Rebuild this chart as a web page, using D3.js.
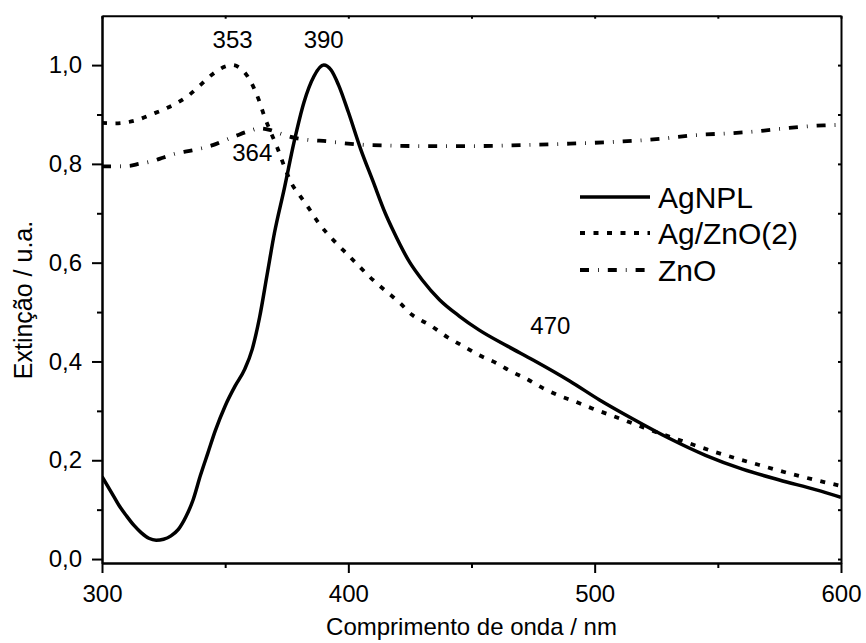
<!DOCTYPE html>
<html><head><meta charset="utf-8">
<script src="https://cdn.jsdelivr.net/npm/d3@7"></script>
<style>body{margin:0;background:#fff;} svg{display:block;} text{font-family:"Liberation Sans",Arial,sans-serif;fill:#000;}</style>
</head><body>
<svg id="c" width="866" height="643"></svg>
<script>
// ---- data ----
const agnplWl = [300,305,307,310,313,316,319,322,325,328,331,334,337,340,343,346,350,354,358,361,364,367,370,374,378,382,386,390,393,396,400,405,410,415,418,425,430,437,445,453,465,475,490,502,515,530,545,560,575,590,600];
const agnplVal = [0.167,0.125,0.108,0.087,0.068,0.053,0.042,0.038,0.040,0.047,0.060,0.085,0.120,0.170,0.215,0.260,0.310,0.350,0.385,0.425,0.490,0.575,0.660,0.750,0.845,0.925,0.977,1.000,0.990,0.960,0.905,0.830,0.765,0.700,0.667,0.600,0.565,0.525,0.492,0.464,0.430,0.403,0.360,0.322,0.285,0.245,0.210,0.182,0.160,0.140,0.125];
const agznoWl = [300,305,310,315,320,325,330,335,340,345,350,353,356,359,362,364,366,368,371,374,377,380,384,388,395,400,410,421,426,433,440,447,453,460,466,473,479,485,492,499,510,520,535,550,565,580,600];
const agznoVal = [0.883,0.882,0.884,0.890,0.900,0.910,0.922,0.938,0.960,0.982,0.997,1.000,0.994,0.978,0.950,0.925,0.895,0.870,0.835,0.795,0.760,0.738,0.710,0.680,0.640,0.615,0.565,0.518,0.494,0.474,0.450,0.430,0.413,0.397,0.380,0.363,0.346,0.332,0.319,0.305,0.285,0.266,0.240,0.215,0.193,0.172,0.148];
const znoWl = [300,305,311,315,320,325,330,335,340,345,350,355,360,364,368,372,378,385,391,398,405,418,430,450,470,490,510,525,543,555,566,579,593,600];
const znoVal = [0.795,0.795,0.796,0.800,0.805,0.813,0.821,0.826,0.831,0.838,0.848,0.858,0.867,0.872,0.869,0.862,0.853,0.848,0.846,0.842,0.839,0.837,0.836,0.836,0.838,0.841,0.845,0.850,0.859,0.862,0.866,0.873,0.878,0.879];
const seriesNames = ["AgNPL","Ag/ZnO(2)","ZnO"];
const xTicks = [300,400,500,600];
const xMinorTicks = [350,450,550];
const yTicks = [0,0.2,0.4,0.6,0.8,1.0];
const yMinorTicks = [0.1,0.3,0.5,0.7,0.9];
const peakLabels = ["353","390","364","470"];
const peakWl = [353,390,361,482];
const peakVal = [1.034,1.034,0.806,0.455];
const xTitle = "Comprimento de onda / nm";
const yTitle = "Extinção / u.a.";

// ---- layout ----
const L = 102, R = 841, T = 15.7, B = 563;
const svg = d3.select("#c");
const x = d3.scaleLinear().domain([300,600]).range([L,R]);
const y = d3.scaleLinear().domain([-0.008,1.1]).range([B,T]);
const fmt = d => d3.format(".1f")(d).replace(".", ",");

svg.append("clipPath").attr("id","clip").append("rect").attr("x",L).attr("y",T).attr("width",R-L).attr("height",B-T);

const line = d3.line().x(d=>x(d[0])).y(d=>y(d[1])).curve(d3.curveMonotoneX);
const styles = [
  {dash:null, w:3.5},
  {dash:"5,8.5", w:3.8},
  {dash:"9,9,0.8,9", w:3.8}
];
const data = [
  agnplWl.map((w,i)=>[w,agnplVal[i]]),
  agznoWl.map((w,i)=>[w,agznoVal[i]]),
  znoWl.map((w,i)=>[w,znoVal[i]])
];
const g = svg.append("g").attr("clip-path","url(#clip)");
data.forEach((d,i)=>{
  g.append("path").datum(d).attr("d",line).attr("fill","none").attr("stroke","#000")
   .attr("stroke-width",styles[i].w).attr("stroke-dasharray",styles[i].dash);
});

// axes
const axStyle = sel => { sel.selectAll("path,line").attr("stroke","#000").attr("stroke-width",2); sel.selectAll("text").style("font-size","24px").style("font-family","'Liberation Sans',Arial,sans-serif").attr("fill","#000"); };
svg.append("g").attr("transform",`translate(0,${B})`)
  .call(d3.axisBottom(x).tickValues(xTicks).tickSize(10).tickPadding(12).tickSizeOuter(0).tickFormat(d3.format("d"))).call(axStyle);
svg.append("g").attr("transform",`translate(0,${B})`)
  .call(d3.axisBottom(x).tickValues(xMinorTicks).tickSize(5).tickFormat("").tickSizeOuter(0)).call(axStyle);
svg.append("g").attr("transform",`translate(${L},0)`)
  .call(d3.axisLeft(y).tickValues(yTicks).tickSize(10).tickPadding(10).tickSizeOuter(0).tickFormat(fmt)).call(axStyle);
svg.append("g").attr("transform",`translate(${L},0)`)
  .call(d3.axisLeft(y).tickValues(yMinorTicks).tickSize(5).tickFormat("").tickSizeOuter(0)).call(axStyle);
// top & right frame with small inward ticks
svg.append("g").attr("transform",`translate(0,${T})`)
  .call(d3.axisBottom(x).tickValues(xTicks.concat(xMinorTicks)).tickSize(3).tickFormat("").tickSizeOuter(0)).call(axStyle);
svg.append("g").attr("transform",`translate(${R},0)`)
  .call(d3.axisLeft(y).tickValues(yTicks.concat(yMinorTicks)).tickSize(3).tickFormat("").tickSizeOuter(0)).call(axStyle);

// titles
svg.append("text").attr("x",(L+R)/2).attr("y",635).attr("text-anchor","middle").style("font-size","24px").text(xTitle);
svg.append("text").attr("transform",`translate(32,300) rotate(-90)`).attr("text-anchor","middle").style("font-size","25px").text(yTitle);

// peak labels
peakLabels.forEach((t,i)=>{
  svg.append("text").attr("x",x(peakWl[i])).attr("y",y(peakVal[i])).attr("text-anchor","middle").style("font-size","24px").text(t);
});

// legend
const legY = [197,233,270];
seriesNames.forEach((n,i)=>{
  svg.append("line").attr("x1",580).attr("x2",650).attr("y1",legY[i]).attr("y2",legY[i])
    .attr("stroke","#000").attr("stroke-width",styles[i].w).attr("stroke-dasharray",styles[i].dash);
  svg.append("text").attr("x",658).attr("y",legY[i]+10.5).style("font-size","30px").text(n);
});
</script>
</body></html>
